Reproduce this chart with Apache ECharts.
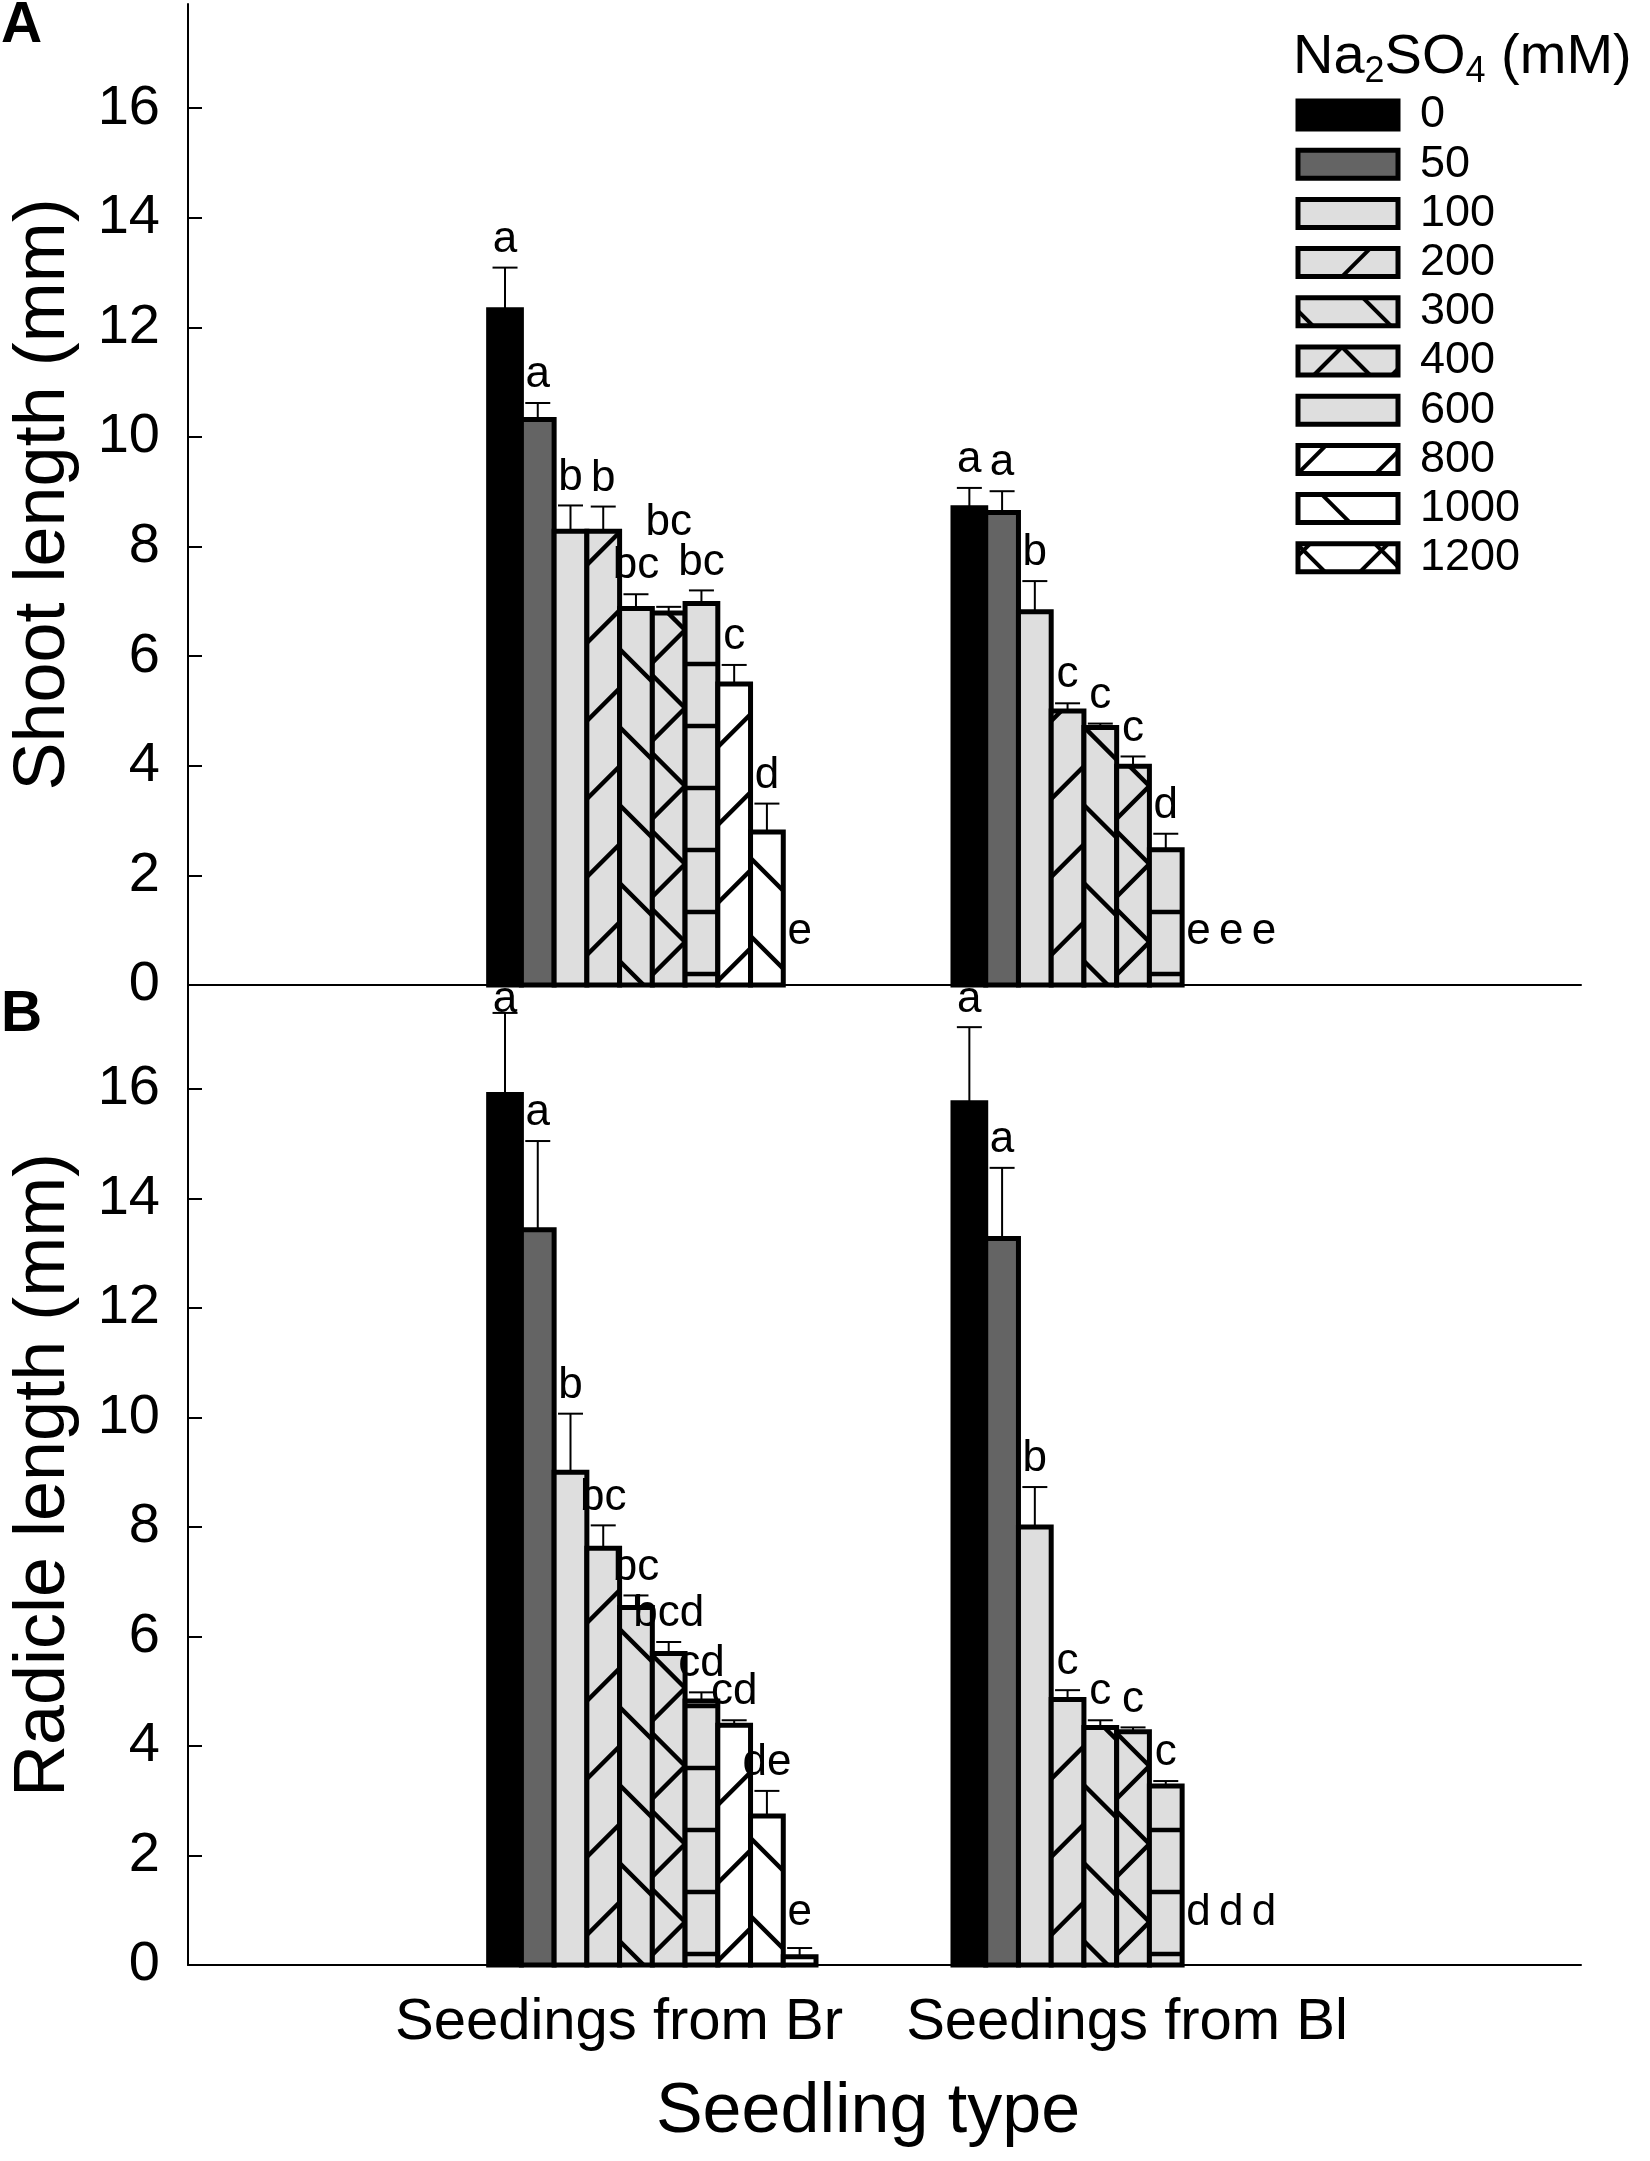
<!DOCTYPE html>
<html>
<head>
<meta charset="utf-8">
<script src="https://cdn.jsdelivr.net/npm/echarts@6.0.0/dist/echarts.min.js"></script>
<style>
html,body{margin:0;padding:0;background:#ffffff;}
#c{width:1650px;height:2161px;}
</style>
</head>
<body>
<div id="c"></div>
<script>
// ---------------- data ----------------
const categories = ['Seedings from Br', 'Seedings from Bl'];
const concentrations = ['0', '50', '100', '200', '300', '400', '600', '800', '1000', '1200'];
const yTickValues = [0, 2, 4, 6, 8, 10, 12, 14, 16];

const shootBr      = [12.32, 10.32, 8.28, 8.28, 6.87, 6.79, 6.96, 5.49, 2.79, 0];
const shootBrErr   = [0.77, 0.30, 0.47, 0.45, 0.26, 0.11, 0.24, 0.35, 0.52, 0];
const shootBl      = [8.71, 8.62, 6.81, 5.00, 4.70, 3.99, 2.47, 0, 0, 0];
const shootBlErr   = [0.36, 0.39, 0.56, 0.14, 0.07, 0.18, 0.29, 0, 0, 0];
const radicleBr    = [15.90, 13.43, 9.00, 7.61, 6.53, 5.69, 4.82, 4.38, 2.72, 0.15];
const radicleBrErr = [1.49, 1.62, 1.07, 0.42, 0.22, 0.21, 0.16, 0.09, 0.46, 0.16];
const radicleBl    = [15.75, 13.27, 8.00, 4.85, 4.34, 4.26, 3.27, 0, 0, 0];
const radicleBlErr = [1.38, 1.29, 0.73, 0.17, 0.13, 0.08, 0.09, 0, 0, 0];

const shootBrLetters   = ['a', 'a', 'b', 'b', 'bc', 'bc', 'bc', 'c', 'd', 'e'];
const shootBlLetters   = ['a', 'a', 'b', 'c', 'c', 'c', 'd', 'e', 'e', 'e'];
const radicleBrLetters = ['a', 'a', 'b', 'bc', 'bc', 'bcd', 'cd', 'cd', 'de', 'e'];
const radicleBlLetters = ['a', 'a', 'b', 'c', 'c', 'c', 'c', 'd', 'd', 'd'];

// ---------------- styles ----------------
const FONT = '"Liberation Sans", Arial, sans-serif';
const BW = 0.0705;            // bar width in x-axis units
const BORDER = 5, HATCH = 4.5, PERIOD = 78, HPERIOD = 62;
const FILLS = ['#000000', '#646464', '#dedede', '#dedede', '#dedede', '#dedede', '#dedede', '#ffffff', '#ffffff', '#ffffff'];
const BAR_PATTERNS = [null, null, null, {s: 30}, {b: 24}, {s: 'R', b: 'R'}, {h: 11}, {s: 4}, {b: 49}, {s: 'R', b: 'R'}];
const LEGEND_PATTERNS = [null, null, null, {s: -44}, {b: 15}, {s: -16, b: 72}, null, {s: 0}, {b: 52}, {s: -62, b: 27}];
const GRID_TOPS = [4, 985];

const PANELS = [
  {groups: [
    {vals: shootBr, errs: shootBrErr, letters: shootBrLetters},
    {vals: shootBl, errs: shootBlErr, letters: shootBlLetters}
  ]},
  {groups: [
    {vals: radicleBr, errs: radicleBrErr, letters: radicleBrLetters},
    {vals: radicleBl, errs: radicleBlErr, letters: radicleBlLetters}
  ]}
];

function mod(a, n) { return ((a % n) + n) % n; }

function hatch(x0, yb, W, H, pat, lw) {
  const out = [];
  if (!pat) return out;
  const seg = (xa, ya, xb, yb2) => out.push({
    type: 'line', silent: true,
    shape: {x1: xa, y1: ya, x2: xb, y2: yb2},
    style: {stroke: '#000', lineWidth: lw}
  });
  if (pat.s !== undefined) {
    const c0 = pat.s === 'R' ? 43 - W : pat.s;
    for (let c = mod(c0, PERIOD) - Math.ceil((W + H) / PERIOD + 1) * PERIOD; c < H; c += PERIOD) {
      const t0 = Math.max(0, -c), t1 = Math.min(W, H - c);
      if (t1 > t0) seg(x0 + t0, yb - (c + t0), x0 + t1, yb - (c + t1));
    }
  }
  if (pat.b !== undefined) {
    const c0 = pat.b === 'R' ? 43 + W : pat.b;
    for (let c = mod(c0, PERIOD) - PERIOD; c < H + W + PERIOD; c += PERIOD) {
      const t0 = Math.max(0, c - H), t1 = Math.min(W, c);
      if (t1 > t0) seg(x0 + t0, yb - (c - t0), x0 + t1, yb - (c - t1));
    }
  }
  if (pat.h !== undefined) {
    for (let c = pat.h; c < H - 2; c += HPERIOD) {
      if (c > 0) seg(x0, yb - c, x0 + W, yb - c);
    }
  }
  return out;
}

function labelCenterY(panel, g, i, api) {
  const d = PANELS[panel].groups[g];
  const natural = (k) => {
    const top = Math.max(d.vals[k] + d.errs[k], 0.45);
    return Math.max(api.coord([0, top])[1] - 28, GRID_TOPS[panel] + 15);
  };
  let y = null, yNext = null;
  for (let k = d.vals.length - 1; k >= i; k--) {
    y = natural(k);
    if (yNext !== null) {
      const wk = d.letters[k].length * 22, wn = d.letters[k + 1].length * 22;
      if ((wk + wn) / 2 > 35 && Math.abs(y - yNext) < 22) y = yNext - 40;
    }
    yNext = y;
  }
  return y;
}

function makeRender(panel) {
  return function (params, api) {
    const gpos = api.value(0), i = api.value(1), v = api.value(2), e = api.value(3);
    const g = gpos - 1;
    const left = gpos + (i - 5) * BW;
    const pL = api.coord([left, 0]);
    const pR = api.coord([left + BW, v]);
    const x0 = pL[0], x1 = pR[0], yb = pL[1], yt = pR[1];
    const W = x1 - x0, H = yb - yt;
    const xc = (x0 + x1) / 2;
    const children = [];
    if (v > 0) {
      children.push({type: 'rect', shape: {x: x0, y: yt, width: W, height: H}, style: {fill: FILLS[i]}});
      hatch(x0, yb, W, H, BAR_PATTERNS[i], HATCH).forEach(c => children.push(c));
      children.push({type: 'rect', shape: {x: x0, y: yt, width: W, height: H},
        style: {fill: 'none', stroke: '#000', lineWidth: BORDER}});
    }
    if (e > 0) {
      const pe = api.coord([left + BW / 2, v + e]);
      children.push({type: 'line', shape: {x1: xc, y1: yt, x2: xc, y2: pe[1]}, style: {stroke: '#000', lineWidth: 2}});
      children.push({type: 'line', shape: {x1: xc - 12.5, y1: pe[1], x2: xc + 12.5, y2: pe[1]}, style: {stroke: '#000', lineWidth: 2}});
    }
    const letters = PANELS[panel].groups[g].letters[i];
    children.push({type: 'text', x: xc, y: labelCenterY(panel, g, i, api),
      style: {text: letters, fontSize: 44, fontFamily: FONT, fill: '#000', align: 'center', verticalAlign: 'middle'}});
    return {type: 'group', children: children};
  };
}

function buildData(panel) {
  const out = [];
  PANELS[panel].groups.forEach((grp, g) => {
    grp.vals.forEach((val, i) => out.push([g + 1, i, val, grp.errs[i]]));
  });
  return out;
}

// ---------------- legend (graphic) ----------------
const graphic = [];
graphic.push({type: 'text', x: 1293, y: 58, silent: true,
  style: {text: '{n|Na}{s|2}{n|SO}{s|4}{n| (mM)}', align: 'left', verticalAlign: 'middle', fill: '#000',
    rich: {
      n: {fontSize: 56, fontFamily: FONT, lineHeight: 64, verticalAlign: 'middle', fill: '#000'},
      s: {fontSize: 36, fontFamily: FONT, lineHeight: 30, verticalAlign: 'bottom', fill: '#000'}
    }}});
concentrations.forEach((name, k) => {
  const cy = 115 + k * 49.2;
  const sx = 1298, sw = 100, sh = 28, sy = cy - sh / 2;
  graphic.push({type: 'rect', silent: true, shape: {x: sx, y: sy, width: sw, height: sh}, style: {fill: FILLS[k]}});
  hatch(sx, sy + sh, sw, sh, LEGEND_PATTERNS[k], 4).forEach(c => graphic.push(c));
  graphic.push({type: 'rect', silent: true, shape: {x: sx, y: sy, width: sw, height: sh},
    style: {fill: 'none', stroke: '#000', lineWidth: 5}});
  graphic.push({type: 'text', x: 1420, y: cy, silent: true,
    style: {text: name, fontSize: 45, fontFamily: FONT, fill: '#000', align: 'left', verticalAlign: 'middle'}});
});
// panel letters
graphic.push({type: 'text', x: 1, y: 26, silent: true,
  style: {text: 'A', fontSize: 57, fontWeight: 'bold', fontFamily: FONT, fill: '#000', align: 'left', verticalAlign: 'middle'}});
graphic.push({type: 'text', x: 1, y: 1015, silent: true,
  style: {text: 'B', fontSize: 57, fontWeight: 'bold', fontFamily: FONT, fill: '#000', align: 'left', verticalAlign: 'middle'}});
// category labels & x title
const catCenters = [619, 1127];
categories.forEach((c, k) => {
  graphic.push({type: 'text', x: catCenters[k], y: 2023, silent: true,
    style: {text: c, fontSize: 58, fontFamily: FONT, fill: '#000', align: 'center', verticalAlign: 'middle'}});
});
graphic.push({type: 'text', x: 868, y: 2113, silent: true,
  style: {text: 'Seedling type', fontSize: 70, fontFamily: FONT, fill: '#000', align: 'center', verticalAlign: 'middle'}});

// ---------------- axes ----------------
function xAxisCfg(gi) {
  return {gridIndex: gi, type: 'value', min: 0, max: 3,
    axisLine: {show: true, onZero: false, lineStyle: {color: '#000', width: 2}},
    axisTick: {show: false}, axisLabel: {show: false}, splitLine: {show: false}};
}
function yAxisCfg(gi, name) {
  return {gridIndex: gi, type: 'value', min: 0, max: 17.9, interval: 2,
    name: name, nameLocation: 'middle', nameGap: 108, nameRotate: 90,
    nameTextStyle: {fontSize: 72, fontFamily: FONT, color: '#000'},
    axisLine: {show: true, lineStyle: {color: '#000', width: 2}},
    axisTick: {show: true, inside: true, length: 14, lineStyle: {color: '#000', width: 2}, customValues: yTickValues},
    axisLabel: {show: true, margin: 28, fontSize: 56, fontFamily: FONT, color: '#000', customValues: yTickValues},
    splitLine: {show: false}};
}

const option = {
  animation: false,
  backgroundColor: '#ffffff',
  grid: [
    {left: 181, top: 4, width: 1400, height: 981},
    {left: 181, top: 985, width: 1400, height: 980}
  ],
  xAxis: [xAxisCfg(0), xAxisCfg(1)],
  yAxis: [yAxisCfg(0, 'Shoot length (mm)'), yAxisCfg(1, 'Radicle length (mm)')],
  series: [
    {type: 'custom', name: 'Shoot', xAxisIndex: 0, yAxisIndex: 0, clip: false,
      renderItem: makeRender(0), data: buildData(0), encode: {x: 0, y: 2}},
    {type: 'custom', name: 'Radicle', xAxisIndex: 1, yAxisIndex: 1, clip: false,
      renderItem: makeRender(1), data: buildData(1), encode: {x: 0, y: 2}}
  ],
  graphic: graphic
};

const chart = echarts.init(document.getElementById('c'));
chart.setOption(option);
</script>
</body>
</html>
